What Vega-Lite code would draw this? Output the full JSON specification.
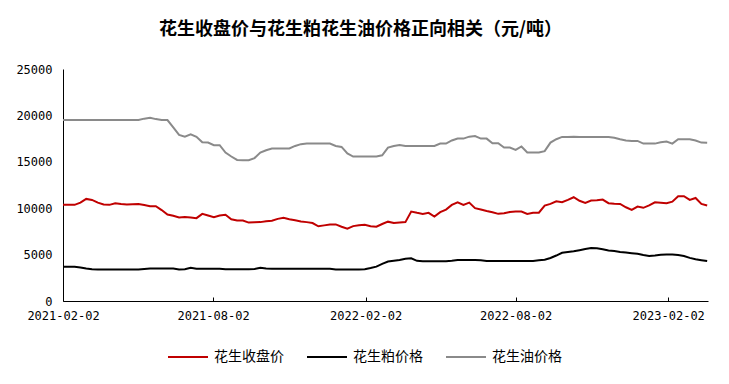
{
  "$schema": "https://vega.github.io/schema/vega-lite/v6.json",
  "width": 645,
  "height": 232,
  "autosize": {"type": "none"},
  "padding": {"left": 63, "top": 69, "right": 21, "bottom": 83},
  "background": "white",
  "title": {
    "text": "花生收盘价与花生粕花生油价格正向相关（元/吨）",
    "font": "Noto Sans CJK SC",
    "fontSize": 18,
    "fontWeight": "bold",
    "color": "#000000",
    "anchor": "middle",
    "dx": -25,
    "offset": 24
  },
  "config": {
    "view": {"stroke": null},
    "axis": {
      "labelFont": "DejaVu Sans Mono",
      "labelFontSize": 12,
      "labelColor": "#000000",
      "domainColor": "#000000",
      "domainWidth": 1,
      "tickColor": "#000000",
      "grid": false,
      "title": null
    },
    "legend": {
      "labelFont": "Noto Sans CJK SC",
      "labelFontSize": 14,
      "labelColor": "#000000"
    }
  },
  "datasets": {
    "red": [
      {"d":"2021-02-02","v":10360},{"d":"2021-02-09","v":10360},{"d":"2021-02-16","v":10360},{"d":"2021-02-23","v":10600},
      {"d":"2021-03-02","v":11000},{"d":"2021-03-09","v":10890},{"d":"2021-03-16","v":10600},{"d":"2021-03-23","v":10400},
      {"d":"2021-03-30","v":10360},{"d":"2021-04-06","v":10540},{"d":"2021-04-13","v":10450},{"d":"2021-04-20","v":10390},
      {"d":"2021-04-27","v":10420},{"d":"2021-05-04","v":10460},{"d":"2021-05-11","v":10350},{"d":"2021-05-18","v":10210},
      {"d":"2021-05-25","v":10210},{"d":"2021-06-01","v":9800},{"d":"2021-06-08","v":9320},{"d":"2021-06-15","v":9180},
      {"d":"2021-06-22","v":9000},{"d":"2021-06-29","v":9060},{"d":"2021-07-06","v":9000},{"d":"2021-07-13","v":8930},
      {"d":"2021-07-20","v":9390},{"d":"2021-07-27","v":9210},{"d":"2021-08-03","v":9040},{"d":"2021-08-10","v":9210},
      {"d":"2021-08-17","v":9290},{"d":"2021-08-24","v":8800},{"d":"2021-08-31","v":8680},{"d":"2021-09-07","v":8680},
      {"d":"2021-09-14","v":8450},{"d":"2021-09-21","v":8480},{"d":"2021-09-28","v":8500},{"d":"2021-10-05","v":8600},
      {"d":"2021-10-12","v":8650},{"d":"2021-10-19","v":8850},{"d":"2021-10-26","v":8960},{"d":"2021-11-02","v":8800},
      {"d":"2021-11-09","v":8700},{"d":"2021-11-16","v":8570},{"d":"2021-11-23","v":8500},{"d":"2021-11-30","v":8400},
      {"d":"2021-12-07","v":8050},{"d":"2021-12-14","v":8150},{"d":"2021-12-21","v":8250},{"d":"2021-12-28","v":8250},
      {"d":"2022-01-04","v":8000},{"d":"2022-01-11","v":7790},{"d":"2022-01-18","v":8070},{"d":"2022-01-25","v":8150},
      {"d":"2022-02-01","v":8210},{"d":"2022-02-08","v":8050},{"d":"2022-02-15","v":8000},{"d":"2022-02-22","v":8300},
      {"d":"2022-03-01","v":8550},{"d":"2022-03-08","v":8400},{"d":"2022-03-15","v":8450},{"d":"2022-03-22","v":8500},
      {"d":"2022-03-29","v":9640},{"d":"2022-04-05","v":9500},{"d":"2022-04-12","v":9390},{"d":"2022-04-19","v":9500},
      {"d":"2022-04-26","v":9100},{"d":"2022-05-03","v":9570},{"d":"2022-05-10","v":9850},{"d":"2022-05-17","v":10360},
      {"d":"2022-05-24","v":10640},{"d":"2022-05-31","v":10360},{"d":"2022-06-07","v":10600},{"d":"2022-06-14","v":10000},
      {"d":"2022-06-21","v":9860},{"d":"2022-06-28","v":9700},{"d":"2022-07-05","v":9570},{"d":"2022-07-12","v":9390},
      {"d":"2022-07-19","v":9450},{"d":"2022-07-26","v":9600},{"d":"2022-08-02","v":9640},{"d":"2022-08-09","v":9640},
      {"d":"2022-08-16","v":9390},{"d":"2022-08-23","v":9500},{"d":"2022-08-30","v":9520},{"d":"2022-09-06","v":10290},
      {"d":"2022-09-13","v":10460},{"d":"2022-09-20","v":10750},{"d":"2022-09-27","v":10640},{"d":"2022-10-04","v":10900},
      {"d":"2022-10-11","v":11180},{"d":"2022-10-18","v":10800},{"d":"2022-10-25","v":10570},{"d":"2022-11-01","v":10820},
      {"d":"2022-11-08","v":10850},{"d":"2022-11-15","v":10930},{"d":"2022-11-22","v":10540},{"d":"2022-11-29","v":10480},
      {"d":"2022-12-06","v":10460},{"d":"2022-12-13","v":10100},{"d":"2022-12-20","v":9820},{"d":"2022-12-27","v":10180},
      {"d":"2023-01-03","v":10040},{"d":"2023-01-10","v":10300},{"d":"2023-01-17","v":10640},{"d":"2023-01-24","v":10600},
      {"d":"2023-01-31","v":10540},{"d":"2023-02-07","v":10700},{"d":"2023-02-14","v":11290},{"d":"2023-02-21","v":11290},
      {"d":"2023-02-28","v":10900},{"d":"2023-03-07","v":11100},{"d":"2023-03-14","v":10460},{"d":"2023-03-21","v":10300}
    ],
    "black": [
      {"d":"2021-02-02","v":3680},{"d":"2021-02-09","v":3680},{"d":"2021-02-16","v":3680},{"d":"2021-02-23","v":3600},
      {"d":"2021-03-02","v":3500},{"d":"2021-03-09","v":3420},{"d":"2021-03-16","v":3390},{"d":"2021-03-23","v":3390},
      {"d":"2021-03-30","v":3390},{"d":"2021-04-06","v":3390},{"d":"2021-04-13","v":3390},{"d":"2021-04-20","v":3390},
      {"d":"2021-04-27","v":3390},{"d":"2021-05-04","v":3390},{"d":"2021-05-11","v":3450},{"d":"2021-05-18","v":3500},
      {"d":"2021-05-25","v":3500},{"d":"2021-06-01","v":3500},{"d":"2021-06-08","v":3500},{"d":"2021-06-15","v":3500},
      {"d":"2021-06-22","v":3390},{"d":"2021-06-29","v":3420},{"d":"2021-07-06","v":3570},{"d":"2021-07-13","v":3480},
      {"d":"2021-07-20","v":3470},{"d":"2021-07-27","v":3470},{"d":"2021-08-03","v":3470},{"d":"2021-08-10","v":3470},
      {"d":"2021-08-17","v":3430},{"d":"2021-08-24","v":3430},{"d":"2021-08-31","v":3430},{"d":"2021-09-07","v":3430},
      {"d":"2021-09-14","v":3430},{"d":"2021-09-21","v":3450},{"d":"2021-09-28","v":3570},{"d":"2021-10-05","v":3500},
      {"d":"2021-10-12","v":3470},{"d":"2021-10-19","v":3470},{"d":"2021-10-26","v":3470},{"d":"2021-11-02","v":3470},
      {"d":"2021-11-09","v":3470},{"d":"2021-11-16","v":3470},{"d":"2021-11-23","v":3470},{"d":"2021-11-30","v":3470},
      {"d":"2021-12-07","v":3470},{"d":"2021-12-14","v":3470},{"d":"2021-12-21","v":3470},{"d":"2021-12-28","v":3390},
      {"d":"2022-01-04","v":3390},{"d":"2022-01-11","v":3390},{"d":"2022-01-18","v":3390},{"d":"2022-01-25","v":3390},
      {"d":"2022-02-01","v":3420},{"d":"2022-02-08","v":3550},{"d":"2022-02-15","v":3700},{"d":"2022-02-22","v":4000},
      {"d":"2022-03-01","v":4250},{"d":"2022-03-08","v":4330},{"d":"2022-03-15","v":4420},{"d":"2022-03-22","v":4550},
      {"d":"2022-03-29","v":4600},{"d":"2022-04-05","v":4330},{"d":"2022-04-12","v":4290},{"d":"2022-04-19","v":4290},
      {"d":"2022-04-26","v":4290},{"d":"2022-05-03","v":4290},{"d":"2022-05-10","v":4290},{"d":"2022-05-17","v":4350},
      {"d":"2022-05-24","v":4430},{"d":"2022-05-31","v":4430},{"d":"2022-06-07","v":4430},{"d":"2022-06-14","v":4430},
      {"d":"2022-06-21","v":4400},{"d":"2022-06-28","v":4320},{"d":"2022-07-05","v":4320},{"d":"2022-07-12","v":4320},
      {"d":"2022-07-19","v":4320},{"d":"2022-07-26","v":4320},{"d":"2022-08-02","v":4320},{"d":"2022-08-09","v":4320},
      {"d":"2022-08-16","v":4320},{"d":"2022-08-23","v":4320},{"d":"2022-08-30","v":4380},{"d":"2022-09-06","v":4450},
      {"d":"2022-09-13","v":4640},{"d":"2022-09-20","v":4900},{"d":"2022-09-27","v":5200},{"d":"2022-10-04","v":5270},
      {"d":"2022-10-11","v":5350},{"d":"2022-10-18","v":5480},{"d":"2022-10-25","v":5600},{"d":"2022-11-01","v":5700},
      {"d":"2022-11-08","v":5680},{"d":"2022-11-15","v":5580},{"d":"2022-11-22","v":5450},{"d":"2022-11-29","v":5380},
      {"d":"2022-12-06","v":5290},{"d":"2022-12-13","v":5220},{"d":"2022-12-20","v":5150},{"d":"2022-12-27","v":5080},
      {"d":"2023-01-03","v":4950},{"d":"2023-01-10","v":4850},{"d":"2023-01-17","v":4900},{"d":"2023-01-24","v":4980},
      {"d":"2023-01-31","v":5000},{"d":"2023-02-07","v":5000},{"d":"2023-02-14","v":4950},{"d":"2023-02-21","v":4850},
      {"d":"2023-02-28","v":4650},{"d":"2023-03-07","v":4500},{"d":"2023-03-14","v":4400},{"d":"2023-03-21","v":4300}
    ],
    "gray": [
      {"d":"2021-02-02","v":19500},{"d":"2021-02-09","v":19500},{"d":"2021-02-16","v":19500},{"d":"2021-02-23","v":19500},
      {"d":"2021-03-02","v":19500},{"d":"2021-03-09","v":19500},{"d":"2021-03-16","v":19500},{"d":"2021-03-23","v":19500},
      {"d":"2021-03-30","v":19500},{"d":"2021-04-06","v":19500},{"d":"2021-04-13","v":19500},{"d":"2021-04-20","v":19500},
      {"d":"2021-04-27","v":19500},{"d":"2021-05-04","v":19500},{"d":"2021-05-11","v":19650},{"d":"2021-05-18","v":19750},
      {"d":"2021-05-25","v":19600},{"d":"2021-06-01","v":19500},{"d":"2021-06-08","v":19500},{"d":"2021-06-15","v":18700},
      {"d":"2021-06-22","v":17900},{"d":"2021-06-29","v":17710},{"d":"2021-07-06","v":17960},{"d":"2021-07-13","v":17700},
      {"d":"2021-07-20","v":17100},{"d":"2021-07-27","v":17070},{"d":"2021-08-03","v":16790},{"d":"2021-08-10","v":16790},
      {"d":"2021-08-17","v":16000},{"d":"2021-08-24","v":15570},{"d":"2021-08-31","v":15200},{"d":"2021-09-07","v":15180},
      {"d":"2021-09-14","v":15180},{"d":"2021-09-21","v":15400},{"d":"2021-09-28","v":16000},{"d":"2021-10-05","v":16250},
      {"d":"2021-10-12","v":16430},{"d":"2021-10-19","v":16430},{"d":"2021-10-26","v":16430},{"d":"2021-11-02","v":16430},
      {"d":"2021-11-09","v":16710},{"d":"2021-11-16","v":16900},{"d":"2021-11-23","v":16960},{"d":"2021-11-30","v":16960},
      {"d":"2021-12-07","v":16960},{"d":"2021-12-14","v":16960},{"d":"2021-12-21","v":16960},{"d":"2021-12-28","v":16710},
      {"d":"2022-01-04","v":16600},{"d":"2022-01-11","v":15900},{"d":"2022-01-18","v":15570},{"d":"2022-01-25","v":15570},
      {"d":"2022-02-01","v":15570},{"d":"2022-02-08","v":15570},{"d":"2022-02-15","v":15570},{"d":"2022-02-22","v":15700},
      {"d":"2022-03-01","v":16530},{"d":"2022-03-08","v":16700},{"d":"2022-03-15","v":16800},{"d":"2022-03-22","v":16710},
      {"d":"2022-03-29","v":16710},{"d":"2022-04-05","v":16710},{"d":"2022-04-12","v":16710},{"d":"2022-04-19","v":16710},
      {"d":"2022-04-26","v":16710},{"d":"2022-05-03","v":16960},{"d":"2022-05-10","v":16960},{"d":"2022-05-17","v":17300},
      {"d":"2022-05-24","v":17500},{"d":"2022-05-31","v":17500},{"d":"2022-06-07","v":17710},{"d":"2022-06-14","v":17780},
      {"d":"2022-06-21","v":17500},{"d":"2022-06-28","v":17500},{"d":"2022-07-05","v":17000},{"d":"2022-07-12","v":17000},
      {"d":"2022-07-19","v":16530},{"d":"2022-07-26","v":16530},{"d":"2022-08-02","v":16280},{"d":"2022-08-09","v":16650},
      {"d":"2022-08-16","v":16000},{"d":"2022-08-23","v":16000},{"d":"2022-08-30","v":16000},{"d":"2022-09-06","v":16150},
      {"d":"2022-09-13","v":17070},{"d":"2022-09-20","v":17430},{"d":"2022-09-27","v":17680},{"d":"2022-10-04","v":17680},
      {"d":"2022-10-11","v":17700},{"d":"2022-10-18","v":17680},{"d":"2022-10-25","v":17680},{"d":"2022-11-01","v":17680},
      {"d":"2022-11-08","v":17680},{"d":"2022-11-15","v":17680},{"d":"2022-11-22","v":17680},{"d":"2022-11-29","v":17600},
      {"d":"2022-12-06","v":17430},{"d":"2022-12-13","v":17300},{"d":"2022-12-20","v":17250},{"d":"2022-12-27","v":17250},
      {"d":"2023-01-03","v":16960},{"d":"2023-01-10","v":16960},{"d":"2023-01-17","v":16960},{"d":"2023-01-24","v":17100},
      {"d":"2023-01-31","v":17180},{"d":"2023-02-07","v":16960},{"d":"2023-02-14","v":17430},{"d":"2023-02-21","v":17430},
      {"d":"2023-02-28","v":17430},{"d":"2023-03-07","v":17300},{"d":"2023-03-14","v":17070},{"d":"2023-03-21","v":17040}
    ]
  },
  "encoding": {
    "x": {
      "field": "d",
      "type": "temporal",
      "scale": {
        "type": "utc",
        "domain": [
          {"year": 2021, "month": 2, "date": 2, "utc": true},
          {"year": 2023, "month": 3, "date": 22, "utc": true}
        ]
      },
      "axis": {
        "values": [
          {"year": 2021, "month": 2, "date": 2, "utc": true},
          {"year": 2021, "month": 8, "date": 2, "utc": true},
          {"year": 2022, "month": 2, "date": 2, "utc": true},
          {"year": 2022, "month": 8, "date": 2, "utc": true},
          {"year": 2023, "month": 2, "date": 2, "utc": true}
        ],
        "format": "%Y-%m-%d",
        "tickSize": -4,
        "labelPadding": 13,
        "labelFlush": false,
        "labelOverlap": false
      }
    },
    "y": {
      "field": "v",
      "type": "quantitative",
      "scale": {"domain": [0, 25000], "nice": false},
      "axis": {
        "values": [0, 5000, 10000, 15000, 20000, 25000],
        "format": "d",
        "ticks": false,
        "labelPadding": 11
      }
    }
  },
  "layer": [
    {
      "data": {"name": "red"},
      "mark": {"type": "line", "strokeWidth": 2, "interpolate": "linear"},
      "encoding": {
        "color": {
          "datum": "花生收盘价",
          "scale": {
            "domain": ["花生收盘价", "花生粕价格", "花生油价格"],
            "range": ["#C00000", "#000000", "#8A8A8A"]
          },
          "legend": {
            "title": null,
            "orient": "none",
            "direction": "horizontal",
            "legendX": 104,
            "legendY": 267,
            "symbolType": "stroke",
            "symbolSize": 1600,
            "symbolStrokeWidth": 2,
            "labelOffset": 5,
            "columnPadding": 19,
            "padding": 0
          }
        }
      }
    },
    {
      "data": {"name": "black"},
      "mark": {"type": "line", "strokeWidth": 2},
      "encoding": {"color": {"datum": "花生粕价格"}}
    },
    {
      "data": {"name": "gray"},
      "mark": {"type": "line", "strokeWidth": 2},
      "encoding": {"color": {"datum": "花生油价格"}}
    }
  ]
}
